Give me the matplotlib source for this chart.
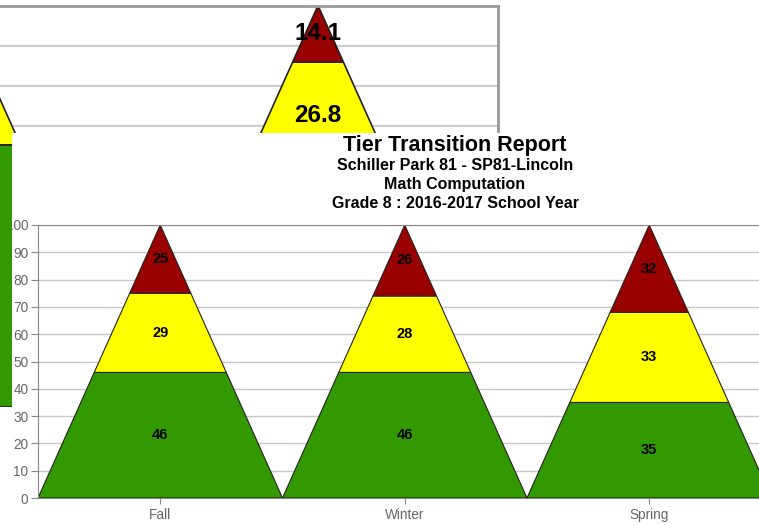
import matplotlib
matplotlib.use('Agg')
import matplotlib.pyplot as plt
from matplotlib.patches import Rectangle

plt.rcParams['font.family'] = ['Liberation Sans', 'DejaVu Sans']

# foreground chart
seasons = ['Fall', 'Winter', 'Spring']
tier1 = [46, 46, 35]   # green, bottom
tier2 = [29, 28, 33]   # yellow
tier3 = [25, 26, 32]   # red, top
title_lines = ['Schiller Park 81 - SP81-Lincoln', 'Math Computation',
               'Grade 8 : 2016-2017 School Year']

# partially hidden chart behind it
bg_tier1 = [65.3, 59.1]
bg_tier2 = [24.7, 26.8]
bg_tier3 = [10.0, 14.1]

GREEN = '#339900'
YELLOW = '#ffff00'
RED = '#990000'
W, H = 759, 525


def half(v):
    return 0.5 * (1 - v / 100.0)


def draw_pyramids(ax, t1, t2, t3, fs, lw):
    for i in range(len(t1)):
        lo = 0
        for val, col in [(t1[i], GREEN), (t2[i], YELLOW), (t3[i], RED)]:
            hi = lo + val
            xs = [i - half(lo), i + half(lo), i + half(hi), i - half(hi)]
            ys = [lo, lo, hi, hi]
            ax.fill(xs, ys, facecolor=col, edgecolor='#222222', lw=lw, zorder=2)
            lbl = ('%g' % val)
            ax.text(i, (lo + hi) / 2, lbl, ha='center', va='center',
                    fontsize=fs, fontweight='bold', color='black', zorder=3)
            lo = hi


def px(l, t, r, b):
    return [l / W, (H - b) / H, (r - l) / W, (b - t) / H]


fig = plt.figure(figsize=(W / 100, H / 100), dpi=100)

# background chart
bg = fig.add_axes(px(-222, 5.5, 498, 407), zorder=0)
draw_pyramids(bg, bg_tier1, bg_tier2, bg_tier3, 17.5, 1.2)
bg.set_xlim(-0.5, 1.5)
bg.set_ylim(0, 100)
bg.set_yticks(range(0, 101, 10))
bg.yaxis.grid(True, color='#cccccc', lw=1.5)
bg.set_axisbelow(True)
bg.tick_params(length=0, labelleft=False, labelbottom=False)
for s in ['top', 'right']:
    bg.spines[s].set_color('#999999')
    bg.spines[s].set_linewidth(2)
for s in ['left', 'bottom']:
    bg.spines[s].set_visible(False)

# white panel of the foreground screenshot
panel = Rectangle((12 / W, 0), 1 - 12 / W, (H - 133) / H, transform=fig.transFigure,
                  facecolor='white', edgecolor='none', zorder=0.5)
fig.patches.append(panel)

# foreground chart
ax = fig.add_axes(px(38, 225, 771.5, 498), zorder=1)
ax.patch.set_alpha(0)
draw_pyramids(ax, tier1, tier2, tier3, 10.5, 0.8)
ax.set_xlim(-0.5, 2.5)
ax.set_ylim(0, 100)
ax.set_yticks(range(0, 101, 10))
ax.set_xticks(range(len(seasons)))
ax.set_xticklabels(seasons)
ax.yaxis.grid(True, color='#c8c8c8', lw=1)
ax.set_axisbelow(True)
ax.tick_params(axis='y', length=5, color='#888888', labelcolor='#666666',
               labelsize=9.8, pad=2)
ax.tick_params(axis='x', length=4, color='#888888', labelcolor='#666666',
               labelsize=9.8, pad=3)
for s in ['top', 'left', 'bottom']:
    ax.spines[s].set_color('#888888')
ax.spines['right'].set_visible(False)

cx = 455 / W
fig.text(cx, (H - 145) / H, 'Tier Transition Report', ha='center', va='center',
         fontsize=15.5, fontweight='bold', zorder=2)
for k, line in enumerate(title_lines):
    fig.text(cx, (H - 166 - 19 * k) / H, line, ha='center', va='center',
             fontsize=11.5, fontweight='bold', zorder=2)

# the foreground screenshot cuts off the y labels at its left edge
fig.canvas.draw()
for lbl in ax.get_yticklabels():
    lbl.set_clip_path(panel)

fig.savefig('out.png', dpi=100)
